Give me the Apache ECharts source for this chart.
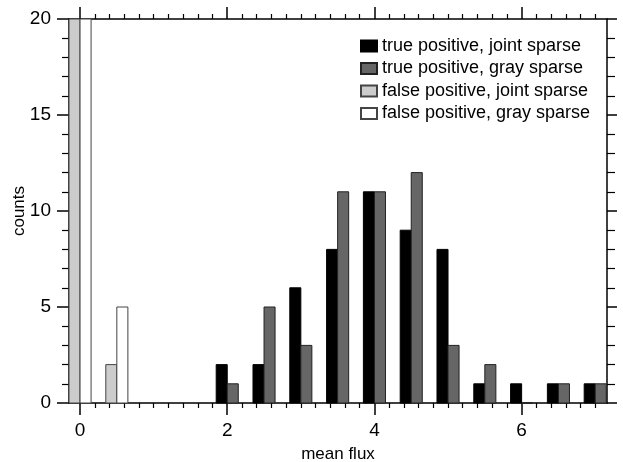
<!DOCTYPE html>
<html>
<head>
<meta charset="utf-8">
<script src="https://cdn.jsdelivr.net/npm/echarts@6/dist/echarts.min.js"></script>
<style>html,body{margin:0;padding:0;background:#fff}#c{width:623px;height:462px}</style>
</head>
<body>
<div id="c"></div>
<script>
// ---- data ----
const tpJointBins = [2, 2.5, 3, 3.5, 4, 4.5, 5, 5.5, 6, 6.5, 7];
const tpJointCounts = [2, 2, 6, 8, 11, 9, 8, 1, 1, 1, 1];
const tpGrayBins = [2, 2.5, 3, 3.5, 4, 4.5, 5, 5.5, 6, 6.5, 7];
const tpGrayCounts = [1, 5, 3, 11, 11, 12, 3, 2, 0, 1, 1];
const fpJointBins = [0, 0.5];
const fpJointCounts = [25, 2];
const fpGrayBins = [0, 0.5];
const fpGrayCounts = [25, 5];
const xMajorTicks = [0, 2, 4, 6];
const yMajorTicks = [0, 5, 10, 15, 20];
const seriesNames = ['true positive, joint sparse', 'true positive, gray sparse',
  'false positive, joint sparse', 'false positive, gray sparse'];

// minor ticks (axis decoration only)
const xMinorTicks = [];
for (let i = 0; i <= 35; i++) {
  const v = Math.round(i * 2) / 10;
  if (Math.abs(v / 2 - Math.round(v / 2)) > 1e-9) xMinorTicks.push(v);
}
const yMinorTicks = [];
for (let i = 0; i <= 20; i++) { if (i % 5 !== 0) yMinorTicks.push(i); }

const BW = 0.15;
const FONT = 'Liberation Sans, Arial, sans-serif';

function barSeries(name, bins, counts, side, fill, stroke) {
  return {
    name: name,
    type: 'custom',
    xAxisIndex: 0, yAxisIndex: 0,
    itemStyle: { color: fill, borderColor: stroke, borderWidth: 1 },
    data: bins.map((b, i) => [b, counts[i]]),
    renderItem: function (params, api) {
      const x = api.value(0), y = api.value(1);
      const x0 = x + side * BW;
      const p0 = api.coord([x0, 0]);
      const p1 = api.coord([x0 + BW, y]);
      const cs = params.coordSys;
      const left = Math.max(p0[0], cs.x);
      const right = Math.min(p1[0], cs.x + cs.width);
      const top = Math.max(p1[1], cs.y);
      const bottom = p0[1];
      return {
        type: 'rect',
        shape: { x: left, y: top, width: right - left, height: bottom - top },
        style: { fill: fill, stroke: stroke, lineWidth: 1 }
      };
    },
    z: 1
  };
}

function lineCfg(major) {
  return { show: major, onZero: false, lineStyle: { color: '#000', width: 1.5 } };
}

function xAx(pos, major) {
  return {
    type: 'value', position: pos, min: -0.15, max: 7.16,
    axisLine: lineCfg(major), splitLine: { show: false },
    axisTick: { show: true, inside: false, length: major ? 12 : 5,
      customValues: major ? xMajorTicks : xMinorTicks,
      lineStyle: { color: '#000', width: major ? 1.5 : 1.2 } },
    axisLabel: { show: false }
  };
}
function yAx(pos, major, len) {
  return {
    type: 'value', position: pos, min: 0, max: 20,
    axisLine: lineCfg(major), splitLine: { show: false },
    axisTick: { show: true, inside: false, length: len,
      customValues: major ? yMajorTicks : yMinorTicks,
      lineStyle: { color: '#000', width: major ? 1.5 : 1.2 } },
    axisLabel: { show: false }
  };
}

const xMain = xAx('bottom', true);
xMain.axisLabel = { show: true, customValues: xMajorTicks, margin: 18, fontFamily: FONT, fontSize: 19, color: '#000' };
xMain.name = 'mean flux';
xMain.nameLocation = 'middle';
xMain.nameGap = 43;
xMain.nameMoveOverlap = false;
xMain.nameTextStyle = { fontFamily: FONT, fontSize: 17, color: '#000' };

const yMain = yAx('left', true, 12);
yMain.axisLabel = { show: true, customValues: yMajorTicks, margin: 18, fontFamily: FONT, fontSize: 19, color: '#000' };
yMain.name = 'counts';
yMain.nameLocation = 'middle';
yMain.nameGap = 41;
yMain.nameRotate = 90;
yMain.nameMoveOverlap = false;
yMain.nameTextStyle = { fontFamily: FONT, fontSize: 17, color: '#000' };

const option = {
  animation: false,
  backgroundColor: '#fff',
  grid: { left: 69, top: 19, right: 16, bottom: 59, containLabel: false, outerBoundsMode: 'none' },
  legend: {
    orient: 'vertical',
    left: 360, top: 37, padding: 0,
    itemWidth: 16, itemHeight: 11, itemGap: 4.5,
    textStyle: { fontFamily: FONT, fontSize: 18, color: '#000' },
    icon: 'rect',
    data: seriesNames
  },
  xAxis: [xMain, xAx('bottom', false), xAx('top', true), xAx('top', false)],
  yAxis: [yMain, yAx('left', false, 7), yAx('right', true, 10), yAx('right', false, 8)],
  series: [
    barSeries(seriesNames[0], tpJointBins, tpJointCounts, -1, '#000000', '#000000'),
    barSeries(seriesNames[1], tpGrayBins, tpGrayCounts, 0, '#666666', '#222222'),
    barSeries(seriesNames[2], fpJointBins, fpJointCounts, -1, '#cccccc', '#444444'),
    barSeries(seriesNames[3], fpGrayBins, fpGrayCounts, 0, '#ffffff', '#444444')
  ]
};

const chart = echarts.init(document.getElementById('c'), null, { renderer: 'canvas' });
chart.setOption(option);
</script>
</body>
</html>
